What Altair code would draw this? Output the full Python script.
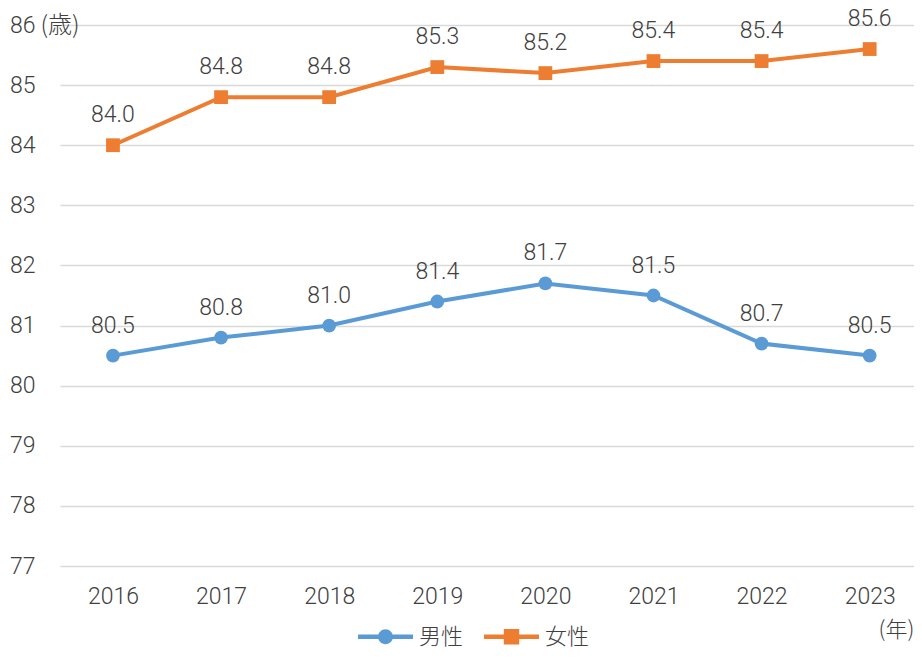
import altair as alt
import pandas as pd

years = [2016, 2017, 2018, 2019, 2020, 2021, 2022, 2023]
male = [80.5, 80.8, 81.0, 81.4, 81.7, 81.5, 80.7, 80.5]
female = [84.0, 84.8, 84.8, 85.3, 85.2, 85.4, 85.4, 85.6]
series = ["男性", "女性"]
colors = ["#5B9BD5", "#ED7D31"]
y_ticks = [77, 78, 79, 80, 81, 82, 83, 84, 85, 86]

rows = []
for name, vals in zip(series, [male, female]):
    for yr, v in zip(years, vals):
        rows.append({"year": yr, "value": v, "series": name, "label": f"{v:.1f}"})
df = pd.DataFrame(rows)

FONT = "Roboto, 'Noto Sans CJK JP'"
CJK = "'Noto Sans CJK JP'"
FW = 300
TXT = "#404040"

circle_path = ("M-1,-0.08L1,-0.08L1,0.08L-1,0.08Z "
               "M-0.27,0A0.27,0.27 0 1,1 0.27,0A0.27,0.27 0 1,1 -0.27,0Z")
square_path = ("M-1,-0.08L1,-0.08L1,0.08L-1,0.08Z "
               "M-0.28,-0.28L0.28,-0.28L0.28,0.28L-0.28,0.28Z")

x_enc = alt.X("year:Q",
              scale=alt.Scale(domain=[2015.51, 2023.41], nice=False, zero=False),
              axis=alt.Axis(values=years, format="d", title="(年)", titleAngle=0,
                            titleX=818, titleY=63,
                            titleAlign="left", titleBaseline="middle",
                            titleFont=CJK, titleFontSize=22, titleFontWeight=FW,
                            titleColor=TXT,
                            labelFont=FONT, labelFontSize=23, labelFontWeight=FW,
                            labelColor=TXT,
                            labelPadding=19, labelAngle=0, labelFlush=False,
                            domain=False, domainOpacity=0, ticks=False,
                            tickOpacity=0, grid=False, gridOpacity=0))
y_enc = alt.Y("value:Q",
              scale=alt.Scale(domain=[77, 86], nice=False, zero=False),
              axis=alt.Axis(values=y_ticks, title="(歳)", titleAngle=0,
                            titleX=-20, titleY=0, titleAlign="left",
                            titleBaseline="middle", titleFont=CJK,
                            titleFontSize=24, titleFontWeight=FW,
                            titleColor=TXT,
                            labelFont=FONT, labelFontSize=23, labelFontWeight=FW,
                            labelColor=TXT,
                            labelPadding=25, domain=False, domainOpacity=0,
                            ticks=False, tickOpacity=0,
                            grid=True, gridColor="#d9d9d9", gridWidth=1.5))
color_scale = alt.Scale(domain=series, range=colors)

base = alt.Chart(df)

lines = base.mark_line(strokeWidth=4).encode(
    x=x_enc, y=y_enc,
    color=alt.Color("series:N", scale=color_scale, legend=None),
    detail="series:N",
)

points = base.mark_point(filled=True, opacity=1, size=190).encode(
    x=x_enc, y=y_enc,
    color=alt.Color("series:N", scale=color_scale, legend=None),
    shape=alt.Shape("series:N",
                    scale=alt.Scale(domain=series, range=["circle", "square"]),
                    legend=None),
)

labels = base.mark_text(fontSize=23, font=FONT, fontWeight=FW, color=TXT, dy=-30,
                        baseline="middle").encode(
    x=x_enc, y=y_enc, text="label:N")

leg = alt.Legend(title=None, orient="none", direction="horizontal",
                 legendX=298, legendY=584,
                 symbolSize=3025, symbolStrokeWidth=0, symbolOpacity=1,
                 labelFont=CJK, labelFontSize=22, labelFontWeight=FW,
                 labelColor=TXT,
                 labelOffset=6, columnPadding=20)

legend_layer = base.transform_filter("false").mark_point(
    filled=True, opacity=1).encode(
    x=x_enc, y=y_enc,
    color=alt.Color("series:N", scale=color_scale, legend=leg),
    shape=alt.Shape("series:N",
                    scale=alt.Scale(domain=series, range=[circle_path, square_path]),
                    legend=leg),
)

chart = alt.layer(lines, points, labels, legend_layer).resolve_scale(
    shape="independent", color="independent"
).properties(
    width=854, height=541,
    background="white",
    view=alt.ViewBackground(stroke="transparent", strokeWidth=0),
    autosize=alt.AutoSizeParams(type="none"),
    padding={"left": 52, "top": 17, "right": 0, "bottom": 82},
).configure_view(strokeWidth=0, stroke="transparent").configure_axis(
    domain=False, ticks=False, domainColor="transparent"
)

chart.save("out.html", embed_options={"renderer": "svg", "actions": False})
